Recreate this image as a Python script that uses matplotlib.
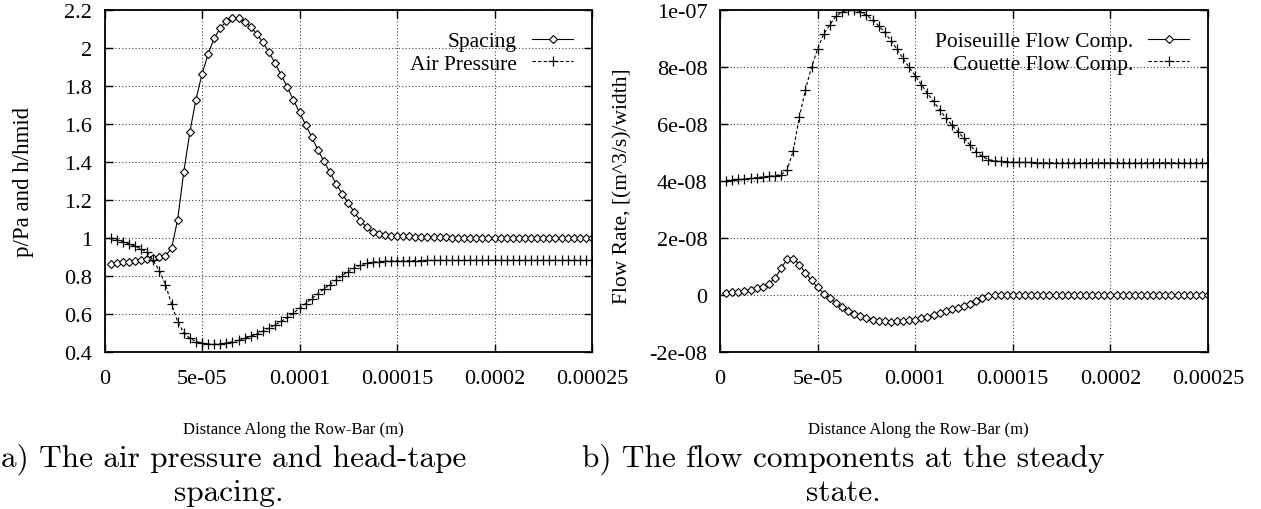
import numpy as np
import matplotlib
matplotlib.use("Agg")
import matplotlib.pyplot as plt

# grid nodes along the row-bar (m), 80 equally spaced nodes
distance = np.linspace(3.125e-6, 2.5e-4, 80)

spacing = [0.865, 0.868, 0.872, 0.876, 0.880, 0.884, 0.889, 0.894, 0.899, 0.907,
           0.945, 1.096, 1.346, 1.556, 1.728, 1.863, 1.968, 2.051, 2.105, 2.140,
           2.156, 2.156, 2.139, 2.112, 2.072, 2.030, 1.977, 1.919, 1.858, 1.793,
           1.727, 1.661, 1.596, 1.531, 1.465, 1.404, 1.345, 1.286, 1.233, 1.183,
           1.135, 1.091, 1.056, 1.030, 1.021, 1.016, 1.013, 1.011, 1.009, 1.008,
           1.007, 1.006, 1.005, 1.004, 1.003, 1.003, 1.002, 1.002, 1.001, 1.001,
           1.000, 1.000, 1.000, 1.000, 1.000, 1.000, 1.000, 1.000, 1.000, 1.000,
           1.000, 1.000, 1.000, 1.000, 1.000, 1.000, 1.000, 1.000, 1.000, 1.000]

air_pressure = [1.000, 0.990, 0.981, 0.970, 0.957, 0.942, 0.925, 0.882, 0.828, 0.755,
                0.653, 0.560, 0.502, 0.472, 0.455, 0.447, 0.441, 0.441, 0.443, 0.447,
                0.454, 0.462, 0.472, 0.483, 0.495, 0.510, 0.526, 0.543, 0.561, 0.582,
                0.605, 0.630, 0.655, 0.681, 0.706, 0.731, 0.755, 0.779, 0.802, 0.823,
                0.842, 0.857, 0.867, 0.873, 0.876, 0.878, 0.879, 0.880, 0.880, 0.881,
                0.881, 0.881, 0.882, 0.882, 0.882, 0.882, 0.882, 0.882, 0.882, 0.882,
                0.882, 0.882, 0.882, 0.882, 0.882, 0.882, 0.882, 0.882, 0.882, 0.882,
                0.882, 0.882, 0.882, 0.882, 0.882, 0.882, 0.882, 0.882, 0.882, 0.882]

# flow components in units of 1e-8 (m^3/s)/width
poiseuille = [0.08, 0.10, 0.12, 0.15, 0.19, 0.23, 0.29, 0.40, 0.58, 0.93,
              1.26, 1.28, 1.07, 0.78, 0.51, 0.27, 0.05, -0.12, -0.28, -0.43,
              -0.56, -0.66, -0.74, -0.81, -0.86, -0.90, -0.92, -0.93, -0.92, -0.91,
              -0.89, -0.86, -0.82, -0.77, -0.70, -0.63, -0.56, -0.50, -0.45, -0.38,
              -0.30, -0.20, -0.10, -0.03, -0.01, 0.00, 0.00, 0.00, 0.00, 0.00,
              0.00, 0.00, 0.00, 0.00, 0.00, 0.00, 0.00, 0.00, 0.00, 0.00,
              0.00, 0.00, 0.00, 0.00, 0.00, 0.00, 0.00, 0.00, 0.00, 0.00,
              0.00, 0.00, 0.00, 0.00, 0.00, 0.00, 0.00, 0.00, 0.00, 0.00]

couette = [4.01, 4.04, 4.06, 4.07, 4.09, 4.12, 4.14, 4.16, 4.19, 4.22,
           4.38, 5.06, 6.24, 7.20, 7.99, 8.63, 9.16, 9.48, 9.78, 9.92,
           10.0, 10.0, 9.94, 9.82, 9.66, 9.45, 9.22, 8.92, 8.63, 8.30,
           7.99, 7.70, 7.38, 7.08, 6.80, 6.50, 6.22, 5.96, 5.73, 5.50,
           5.26, 5.03, 4.86, 4.75, 4.71, 4.69, 4.68, 4.67, 4.66, 4.65,
           4.65, 4.64, 4.64, 4.64, 4.64, 4.64, 4.64, 4.64, 4.64, 4.64,
           4.64, 4.64, 4.64, 4.64, 4.64, 4.64, 4.64, 4.64, 4.64, 4.64,
           4.64, 4.64, 4.64, 4.64, 4.64, 4.64, 4.64, 4.64, 4.64, 4.64]

x_ticks = [0, 5e-5, 1e-4, 1.5e-4, 2e-4, 2.5e-4]
x_tick_labels = ["0", "5e-05", "0.0001", "0.00015", "0.0002", "0.00025"]
left_y_ticks = [0.4, 0.6, 0.8, 1.0, 1.2, 1.4, 1.6, 1.8, 2.0, 2.2]
left_y_labels = ["0.4", "0.6", "0.8", "1", "1.2", "1.4", "1.6", "1.8", "2", "2.2"]
right_y_ticks = [-2e-8, 0, 2e-8, 4e-8, 6e-8, 8e-8, 1e-7]
right_y_labels = ["-2e-08", "0", "2e-08", "4e-08", "6e-08", "8e-08", "1e-07"]

SERIF = "Liberation Serif"
plt.rcParams["font.family"] = [SERIF, "DejaVu Serif"]

fig = plt.figure(figsize=(12.61, 5.10), dpi=100)
W, H = 1261.0, 510.0


def axes_px(x0, y0, x1, y1):
    return fig.add_axes([x0 / W, 1 - y1 / H, (x1 - x0) / W, (y1 - y0) / H])


ax1 = axes_px(104.5, 11, 592, 353)
ax2 = axes_px(720, 11, 1208, 353)

line_kw = dict(color="black", linewidth=0.8)
diamond_kw = dict(marker="D", markersize=4.2, markerfacecolor="white",
                  markeredgecolor="black", markeredgewidth=0.8)
plus_kw = dict(marker="+", markersize=6.5, markeredgecolor="black",
               markeredgewidth=0.9)


def style(ax, yticks, ylabels, ylim):
    ax.set_xlim(0, 2.5e-4)
    ax.set_ylim(*ylim)
    ax.set_xticks(x_ticks)
    ax.set_xticklabels(x_tick_labels)
    ax.set_yticks(yticks)
    ax.set_yticklabels(ylabels)
    ax.tick_params(direction="in", top=True, right=True, length=6, width=1,
                   labelsize=16, pad=9)
    ax.tick_params(axis="x", pad=12.5)
    ax.grid(True, linestyle=(0, (1, 2)), color="0.25", linewidth=0.8)
    for s in ax.spines.values():
        s.set_linewidth(1.3)


ax1.plot(distance, spacing, linestyle="-", label="Spacing", **line_kw, **diamond_kw)
ax1.plot(distance, air_pressure, linestyle=(0, (3, 2)), label="Air Pressure",
         **line_kw, **plus_kw)
style(ax1, left_y_ticks, left_y_labels, (0.4, 2.2))

flow_scale = 1e-8
ax2.plot(distance, np.array(poiseuille) * flow_scale, linestyle="-",
         label="Poiseuille Flow Comp.", **line_kw, **diamond_kw)
ax2.plot(distance, np.array(couette) * flow_scale, linestyle=(0, (3, 2)),
         label="Couette Flow Comp.", **line_kw, **plus_kw)
style(ax2, right_y_ticks, right_y_labels, (-2e-8, 1e-7))

for ax in (ax1, ax2):
    ax.legend(loc="upper right", bbox_to_anchor=(0.961, 0.9375), frameon=False,
              markerfirst=False, fontsize=15.5, handlelength=1.9,
              handletextpad=0.7, labelspacing=0.1, borderaxespad=0,
              borderpad=0, numpoints=1)

# axis labels
fig.text(293 / W, 1 - 430 / H, "Distance Along the Row-Bar (m)", ha="center",
         va="center", fontsize=12)
fig.text(918 / W, 1 - 430 / H, "Distance Along the Row-Bar (m)", ha="center",
         va="center", fontsize=12)
fig.text(23.5 / W, 1 - 182 / H, "p/Pa and h/hmid", rotation=90, ha="center",
         va="center", fontsize=16.5)
fig.text(623 / W, 1 - 186 / H, "Flow Rate, [(m^3/s)/width]", rotation=90,
         ha="center", va="center", fontsize=15.5)

# sub-figure captions
cap_kw = dict(ha="center", va="center", fontsize=22.5, family="cmr10")
fig.text(234 / W, 1 - 459 / H, "a) The air pressure and head-tape", **cap_kw)
fig.text(229 / W, 1 - 493 / H, "spacing.", **cap_kw)
fig.text(843 / W, 1 - 459 / H, "b) The flow components at the steady", **cap_kw)
fig.text(843 / W, 1 - 493 / H, "state.", **cap_kw)

fig.savefig("out.png", dpi=100)
